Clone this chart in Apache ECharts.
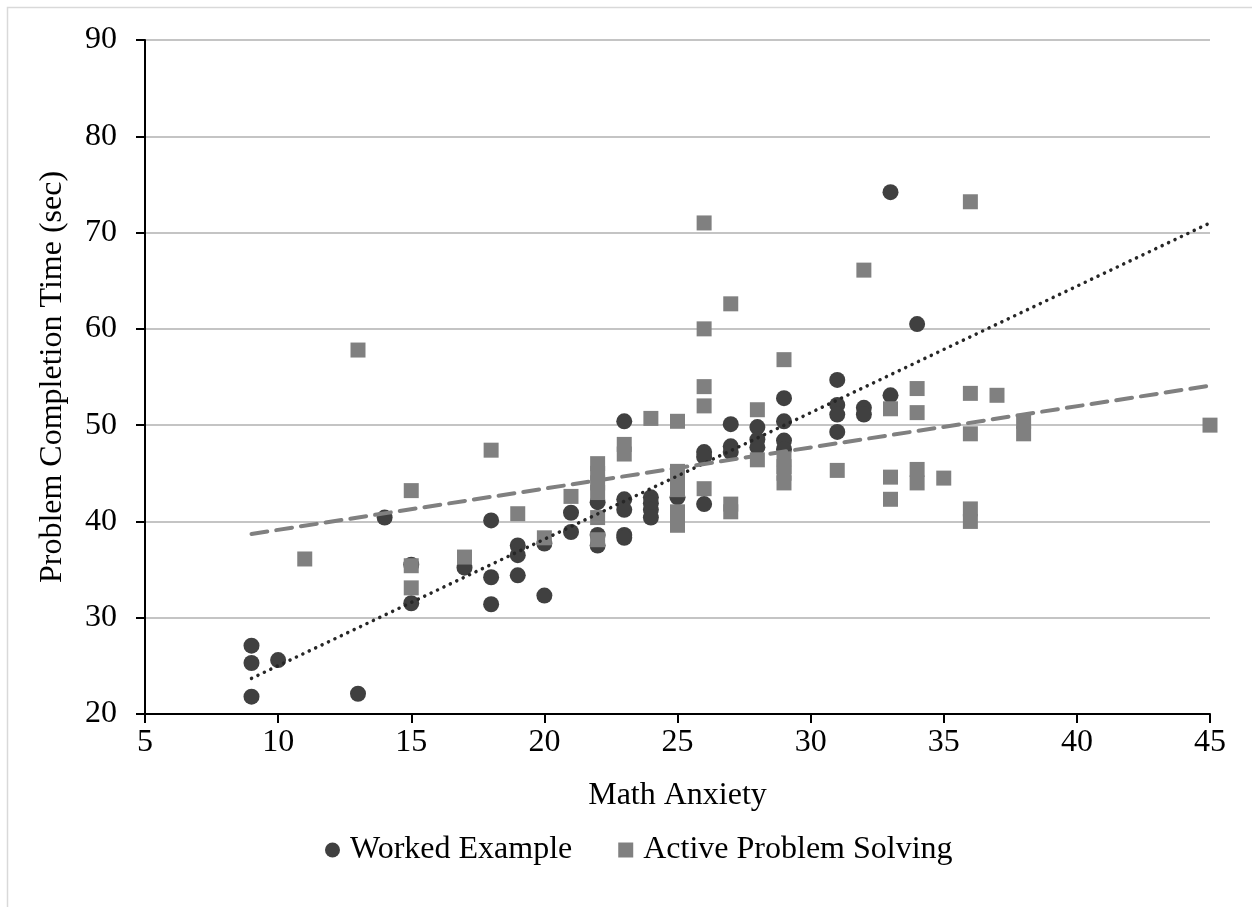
<!DOCTYPE html>
<html>
<head>
<meta charset="utf-8">
<script src="https://cdn.jsdelivr.net/npm/echarts@6/dist/echarts.min.js"></script>
<style>
html,body{margin:0;padding:0;background:#fff;}
#chart{width:1253px;height:907px;}
</style>
</head>
<body>
<div id="chart"></div>
<script>
// Worked Example: [Math Anxiety, Problem Completion Time (sec)]
const workedExample = [
  [9,27.1],[9,25.3],[9,21.8],[10,25.6],[13,22.1],[14,40.4],[15,31.5],[15,35.5],
  [17,35.2],[18,40.1],[18,34.2],[18,31.4],[19,37.5],[19,36.5],[19,34.4],[20,37.7],
  [20,32.3],[21,40.9],[21,38.9],[22,42.0],[22,38.6],[22,37.5],[23,50.4],[23,42.3],
  [23,41.2],[23,38.6],[23,38.3],[24,42.5],[24,41.9],[24,41.2],[24,40.4],[25,42.5],
  [26,47.2],[26,46.7],[26,41.8],[27,50.1],[27,47.8],[27,47.2],[28,49.8],[28,48.5],
  [28,47.7],[29,52.8],[29,50.4],[29,48.4],[29,47.5],[31,54.7],[31,52.1],[31,51.1],
  [31,49.3],[32,51.8],[32,51.1],[33,74.2],[33,53.1],[34,60.5]
];
// Active Problem Solving
const activeProblemSolving = [
  [11,36.1],[13,57.8],[15,43.2],[15,35.4],[15,33.1],[17,36.3],[18,47.4],[19,40.8],
  [20,38.3],[21,42.6],[22,46.0],[22,45.0],[22,44.0],[22,43.0],[22,40.4],[22,38.1],
  [23,48.0],[23,47.0],[24,50.7],[25,50.4],[25,45.2],[25,44.2],[25,43.3],[25,41.0],
  [25,39.6],[26,71.0],[26,60.0],[26,54.0],[26,52.0],[26,43.4],[27,62.6],[27,41.8],
  [27,41.0],[28,51.6],[28,46.4],[29,56.8],[29,46.5],[29,45.7],[29,45.0],[29,44.0],
  [31,45.3],[32,66.1],[33,51.7],[33,44.6],[33,42.3],[34,53.8],[34,51.3],[34,45.4],
  [34,44.0],[35,44.5],[36,73.2],[36,53.3],[36,49.1],[36,41.3],[36,40.0],[37,53.1],
  [38,50.4],[38,49.1],[45,50.0]
];
// Linear trendline endpoints
const trendWorked = [[9,23.7],[45,71.0]];
const trendActive = [[9,38.7],[45,54.1]];

const seriesNames = ['Worked Example','Active Problem Solving'];
const xTicks = {min:5, max:45, interval:5};
const yTicks = {min:20, max:90, interval:10};

const FONT = '"Liberation Serif", "Times New Roman", serif';
const chart = echarts.init(document.getElementById('chart'), null, {renderer:'canvas'});
chart.setOption({
  backgroundColor:'#fff',
  animation:false,
  textStyle:{fontFamily:FONT, color:'#000'},
  graphic:[
    {type:'polyline', shape:{points:[[7.5,910],[7.5,7.5],[1252,7.5]]}, style:{stroke:'#d9d9d9', lineWidth:1.5, fill:null}}
  ],
  grid:{left:145, right:43, top:40, bottom:193},
  xAxis:{
    type:'value', min:xTicks.min, max:xTicks.max, interval:xTicks.interval,
    name:'Math Anxiety', nameLocation:'middle', nameGap:66,
    nameTextStyle:{fontFamily:FONT, fontSize:32, color:'#000'},
    axisLine:{onZero:false, lineStyle:{color:'#000', width:2}},
    axisTick:{show:true, length:9, inside:false, lineStyle:{color:'#000', width:2}},
    axisLabel:{fontFamily:FONT, fontSize:32, color:'#000', margin:13},
    splitLine:{show:false}
  },
  yAxis:{
    type:'value', min:yTicks.min, max:yTicks.max, interval:yTicks.interval,
    name:'Problem Completion Time (sec)', nameLocation:'middle', nameGap:70,
    nameTextStyle:{fontFamily:FONT, fontSize:32, color:'#000', padding:[0,0,6,0]},
    axisLine:{show:true, onZero:false, lineStyle:{color:'#000', width:2}},
    axisTick:{show:true, length:9, inside:false, lineStyle:{color:'#000', width:2}},
    axisLabel:{fontFamily:FONT, fontSize:32, color:'#000', margin:28},
    splitLine:{show:true, lineStyle:{color:'#c4c4c4', width:2}}
  },
  legend:{
    top:829, left:320, itemGap:46, itemWidth:15, itemHeight:15,
    textStyle:{fontFamily:FONT, fontSize:32, color:'#000', padding:[0,0,0,5]},
    data:[{name:seriesNames[0], icon:'circle'},{name:seriesNames[1], icon:'rect'}]
  },
  series:[
    {name:seriesNames[0], type:'scatter', symbol:'circle', symbolSize:16,
     itemStyle:{color:'#404040', opacity:1}, data:workedExample, z:2},
    {name:seriesNames[1], type:'scatter', symbol:'rect', symbolSize:15,
     itemStyle:{color:'#808080', opacity:1}, data:activeProblemSolving, z:3},
    {name:'Worked Example trend', type:'line', data:trendWorked, symbol:'none', z:4,
     lineStyle:{color:'#262626', width:3.5, type:[0.1,7], cap:'round'}, silent:true},
    {name:'Active Problem Solving trend', type:'line', data:trendActive, symbol:'none', z:4,
     lineStyle:{color:'#808080', width:4, type:[16,9], cap:'round'}, silent:true}
  ]
});
</script>
</body>
</html>
